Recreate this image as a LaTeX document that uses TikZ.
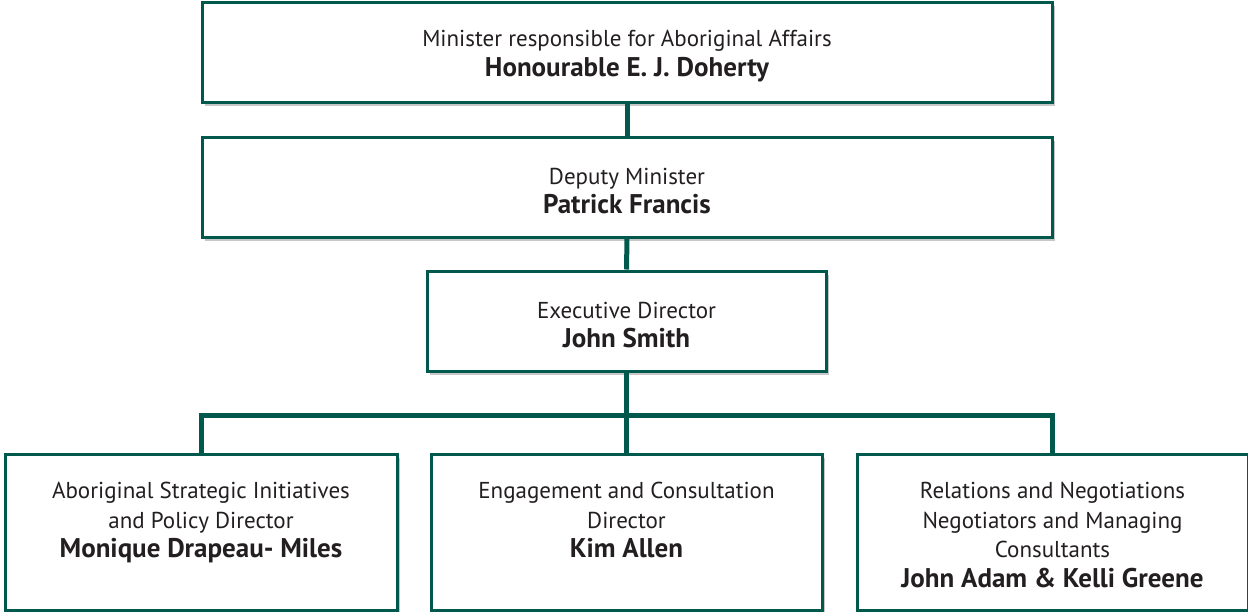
\documentclass[tikz,border=0pt]{standalone}
\usepackage{fontspec}
\setmainfont{PT Sans}
\usetikzlibrary{shadows}
\definecolor{dgreen}{HTML}{00594C}
\definecolor{txtc}{HTML}{231F20}
\newcommand{\bname}[1]{{\fontsize{27}{29.5}\selectfont\bfseries #1}}
\tikzset{
  x=1pt, y=-1pt,
  box/.style={draw=dgreen, line width=3pt, fill=white, inner sep=0pt,
    drop shadow={shadow xshift=3pt, shadow yshift=-4pt, opacity=0.22, fill=black}},
  txt/.style={text=txtc, align=center, font=\fontsize{23}{29.5}\selectfont, inner sep=0pt},
  conn/.style={draw=dgreen, line width=5pt}
}
\begin{document}
\begin{tikzpicture}
\useasboundingbox (0,0) rectangle (1248,611);
\coordinate (j) at (627,415);
\node[box, minimum width=850, minimum height=100] (b1) at (627,52) {};
\node[box, minimum width=850, minimum height=100] (b2) at (627,187) {};
\node[box, minimum width=399, minimum height=100] (b3) at (626.5,321) {};
\node[box, minimum width=392, minimum height=156] (b4) at (201,532) {};
\node[box, minimum width=391, minimum height=156] (b5) at (626.5,532) {};
\node[box, minimum width=391, minimum height=156] (b6) at (1052.5,532) {};
\draw[conn] (b1.south) -- (b2.north);
\draw[conn] (b2.south) -- (b3.north);
\draw[conn] (b3.south) -- (b5.north);
\draw[conn, line cap=rect] (b4.north) |- (j) -| (b6.north);
\node[txt] (t1) at ([yshift=-4pt]b1.center) {Minister responsible for Aboriginal Affairs\\\bname{Honourable E. J. Doherty}};
\node[txt] (t2) at ([yshift=-4pt]b2.center) {Deputy Minister\\\bname{Patrick Francis}};
\node[txt] (t3) at ([yshift=-4pt]b3.center) {Executive Director\\\bname{John Smith}};
\node[txt, anchor=north] (t4) at ([yshift=-29.5pt]b4.north) {Aboriginal Strategic Initiatives\\and Policy Director\\\bname{Monique Drapeau- Miles}};
\node[txt, anchor=north] (t5) at ([yshift=-29.5pt]b5.north) {Engagement and Consultation\\Director\\\bname{Kim Allen}};
\node[txt, anchor=north] (t6) at ([yshift=-29.5pt]b6.north) {Relations and Negotiations\\Negotiators and Managing\\Consultants\\\bname{John Adam \& Kelli Greene}};
\end{tikzpicture}
\end{document}
